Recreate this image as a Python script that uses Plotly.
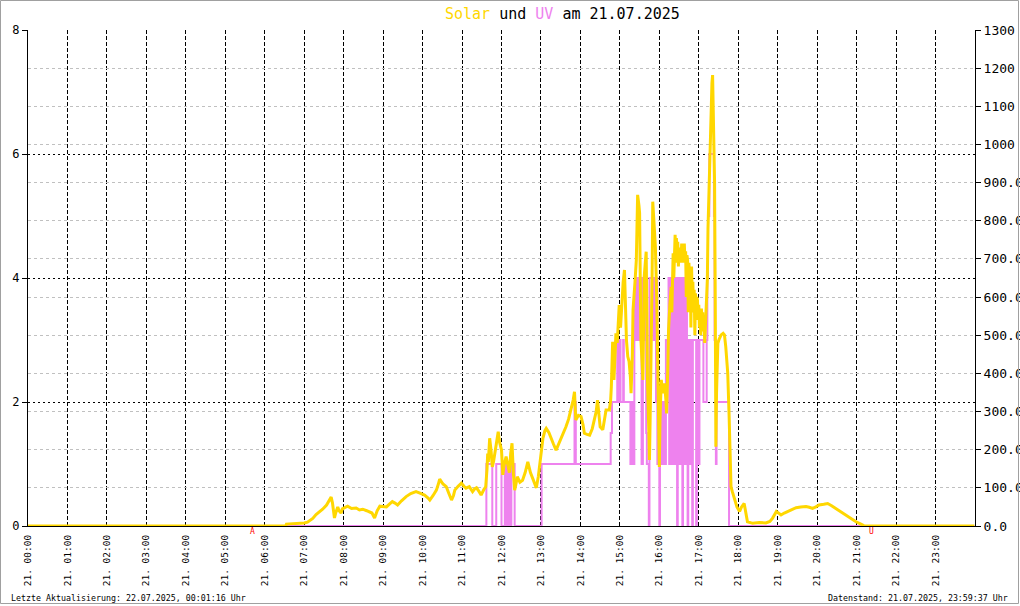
import plotly.graph_objects as go

DAY = "2025-07-21"

solar_times = [
    "00:00", "06:32", "06:33", "06:50", "07:00", "07:05", "07:13", "07:18", "07:23", "07:28",
    "07:34", "07:38", "07:41", "07:43", "07:46", "07:48", "07:51", "07:53", "07:56", "07:58",
    "08:01", "08:06", "08:12", "08:19", "08:24", "08:29", "08:35", "08:39", "08:43", "08:47",
    "08:51", "08:55", "09:00", "09:05", "09:10", "09:14", "09:18", "09:22", "09:28", "09:35",
    "09:42", "09:50", "09:56", "10:03", "10:08", "10:11", "10:16", "10:21", "10:24", "10:26",
    "10:31", "10:36", "10:40", "10:44", "10:47", "10:49", "10:54", "10:59", "11:03", "11:06",
    "11:11", "11:14", "11:16", "11:19", "11:22", "11:26", "11:29", "11:33", "11:36", "11:38",
    "11:39", "11:40", "11:42", "11:44", "11:46", "11:48", "11:49", "11:52", "11:55", "11:57",
    "12:00", "12:02", "12:04", "12:07", "12:10", "12:12", "12:14", "12:16", "12:18", "12:20",
    "12:22", "12:24", "12:28", "12:32", "12:36", "12:40", "12:44", "12:48", "12:53", "12:56",
    "12:58", "13:01", "13:03", "13:06", "13:08", "13:12", "13:15", "13:19", "13:23", "13:27",
    "13:31", "13:35", "13:38", "13:42", "13:46", "13:49", "13:51", "13:53", "13:57", "14:01",
    "14:04", "14:06", "14:10", "14:14", "14:18", "14:21", "14:24", "14:26", "14:28", "14:30",
    "14:34", "14:37", "14:39", "14:44", "14:46", "14:47", "14:49", "14:51", "14:52", "14:54",
    "14:56", "14:57", "14:59", "15:01", "15:02", "15:05", "15:07", "15:09", "15:10", "15:12",
    "15:14", "15:16", "15:17", "15:19", "15:20", "15:23", "15:25", "15:26", "15:27", "15:29",
    "15:30", "15:31", "15:32", "15:34", "15:35", "15:37", "15:39", "15:40", "15:41", "15:42",
    "15:44", "15:45", "15:46", "15:47", "15:49", "15:50", "15:52", "15:54", "15:56", "15:57",
    "15:59", "16:00", "16:01", "16:03", "16:05", "16:08", "16:10", "16:11", "16:13", "16:14",
    "16:16", "16:18", "16:19", "16:20", "16:21", "16:22", "16:23", "16:24", "16:25", "16:26",
    "16:27", "16:28", "16:29", "16:30", "16:31", "16:32", "16:33", "16:34", "16:35", "16:36",
    "16:37", "16:38", "16:39", "16:40", "16:41", "16:42", "16:43", "16:44", "16:45", "16:46",
    "16:47", "16:48", "16:49", "16:50", "16:51", "16:52", "16:53", "16:54", "16:55", "16:56",
    "16:57", "16:58", "16:59", "17:00", "17:01", "17:02", "17:03", "17:04", "17:05", "17:06",
    "17:07", "17:08", "17:09", "17:10", "17:11", "17:12", "17:13", "17:14", "17:16", "17:18",
    "17:20", "17:21", "17:22", "17:24", "17:25", "17:26", "17:27", "17:29", "17:31", "17:34",
    "17:37", "17:39", "17:41", "17:43", "17:44", "17:46", "17:48", "17:49", "17:51", "17:54",
    "17:58", "18:02", "18:05", "18:09", "18:11", "18:14", "18:22", "18:32", "18:42", "18:48",
    "18:52", "18:55", "18:58", "19:02", "19:05", "19:10", "19:15", "19:22", "19:28", "19:35",
    "19:43", "19:48", "19:53", "19:58", "20:03", "20:10", "20:16", "20:22", "20:28", "20:36",
    "20:44", "20:52", "20:59", "21:05", "21:11", "21:18", "23:59",
]
solar_values = [
    0, 0, 5, 6, 8, 10, 20, 30, 37, 44,
    55, 68, 76, 60, 21, 35, 50, 40, 34, 45,
    47, 52, 46, 47, 42, 44, 40, 38, 34, 21,
    40, 52, 50, 50, 58, 64, 60, 55, 66, 77,
    85, 90, 86, 81, 74, 68, 80, 94, 110, 123,
    110, 103, 85, 68, 80, 94, 104, 112, 104, 99,
    103, 96, 90, 97, 100, 90, 81, 95, 103, 150,
    190, 168, 230, 200, 155, 170, 180, 210, 247, 220,
    199, 134, 160, 182, 150, 140, 190, 217, 140, 94,
    110, 129, 115, 120, 140, 168, 140, 120, 100, 130,
    160, 200, 230, 250, 256, 245, 234, 215, 199, 215,
    230, 245, 260, 280, 308, 330, 352, 278, 290, 287,
    265, 243, 240, 238, 255, 278, 300, 330, 290, 260,
    252, 280, 304, 304, 330, 365, 483, 383, 420, 505,
    480, 531, 579, 520, 560, 640, 671, 560, 487, 444,
    431, 390, 348, 450, 566, 640, 697, 780, 868, 840,
    820, 650, 487, 420, 383, 653, 700, 719, 560, 383,
    250, 173, 280, 383, 650, 850, 800, 732, 600, 470,
    300, 155, 280, 383, 348, 374, 330, 295, 420, 514,
    580, 627, 560, 690, 715, 650, 740, 763, 700, 755,
    690, 745, 680, 730, 690, 720, 697, 740, 690, 730,
    700, 740, 690, 720, 600, 710, 697, 560, 690, 650,
    662, 520, 680, 600, 640, 560, 619, 500, 610, 580,
    600, 592, 540, 580, 520, 558, 500, 570, 530, 560,
    510, 540, 480, 522, 560, 600, 645, 780, 907, 1100,
    1160, 1182, 1050, 900, 600, 208, 350, 479, 490, 501,
    505, 501, 470, 430, 401, 295, 180, 103, 90, 73,
    50, 38, 50, 59, 40, 11, 7, 9, 8, 12,
    20, 30, 38, 33, 29, 34, 38, 44, 48, 50,
    51, 49, 46, 50, 55, 57, 59, 53, 46, 38,
    29, 20, 11, 6, 1, 0, 0,
]

uv_times = [
    "00:00", "11:37", "11:46", "11:52", "12:00", "12:05", "12:08", "12:10", "12:13", "12:15",
    "12:20", "13:01", "13:51", "13:53", "14:46", "14:48", "14:56", "14:57", "14:58", "14:59",
    "15:00", "15:01", "15:03", "15:05", "15:06", "15:16", "15:18", "15:20", "15:22", "15:23",
    "15:24", "15:25", "15:26", "15:27", "15:28", "15:29", "15:30", "15:31", "15:33", "15:35",
    "15:36", "15:37", "15:38", "15:39", "15:40", "15:41", "15:44", "15:45", "15:51", "15:52",
    "15:55", "15:56", "15:57", "15:58", "16:00", "16:01", "16:02", "16:03", "16:04", "16:05",
    "16:06", "16:07", "16:08", "16:09", "16:10", "16:14", "16:15", "16:16", "16:17", "16:18",
    "16:19", "16:20", "16:21", "16:22", "16:23", "16:24", "16:25", "16:26", "16:27", "16:28",
    "16:29", "16:30", "16:31", "16:32", "16:33", "16:34", "16:35", "16:36", "16:37", "16:38",
    "16:39", "16:40", "16:41", "16:42", "16:43", "16:44", "16:46", "16:47", "16:50", "16:51",
    "16:56", "16:57", "17:00", "17:01", "17:07", "17:12", "17:13", "17:14", "17:16", "17:23",
    "17:24", "17:26", "17:27", "17:46", "23:59",
]
uv_values = [
    0, 1, 0, 1, 0, 1, 0, 1, 0, 1,
    0, 1, 2, 1, 1.5, 2, 3, 2, 3, 2,
    3, 2, 2, 3, 2, 1, 2, 1, 3, 4,
    3, 4, 3, 4, 3, 4, 3, 4, 1, 4,
    3, 4, 3, 4, 1.5, 1, 0, 4, 3, 4,
    2, 4, 1, 2, 0, 1, 2, 1, 2, 1,
    2, 1, 2, 1, 3, 4, 1, 4, 2, 4,
    1, 4, 3, 4, 1, 4, 2, 4, 0, 4,
    1, 4, 3, 4, 1, 4, 0, 4, 2, 4,
    1, 3, 4, 3, 0, 3, 1, 3, 0, 3,
    0, 3, 1, 3, 2, 3, 4, 5, 6, 5,
    3, 1, 2, 0, 0,
]

hour_ticks = ["%02d:00" % h for h in range(24)]
sunrise_time = "05:42"
sunset_time = "21:23"

title_html = ('<span style="color:#FFD700">Solar</span> und '
              '<span style="color:#EE82EE">UV</span> am 21.07.2025')
footer_left = "Letzte Aktualisierung: 22.07.2025, 00:01:16 Uhr"
footer_right = "Datenstand: 21.07.2025, 23:59:37 Uhr"

solar_ticks = list(range(0, 1400, 100))
solar_ticktext = [("%.1f" % v) if v < 1000 else str(v) for v in solar_ticks]

MONO = "DejaVu Sans Mono"
L, R, T, B = 28, 45, 30, 80
W, H = 1020, 606
PW, PH = W - L - R, H - T - B


def px_x(px):
    return (px - L) / PW


def px_y(py):
    return (H - B - py) / PH


fig = go.Figure()
fig.add_trace(go.Scatter(
    x=[f"{DAY} {t}" for t in solar_times], y=solar_values, yaxis="y2",
    mode="lines", line=dict(color="#FFD700", width=3), name="Solar",
    hoverinfo="skip"))
fig.add_trace(go.Scatter(
    x=[f"{DAY} {t}" for t in uv_times], y=uv_values, yaxis="y",
    mode="lines", line=dict(color="#EE82EE", width=2, shape="hv"), name="UV",
    hoverinfo="skip"))

fig.update_layout(
    width=W, height=H, autosize=False,
    margin=dict(l=L, r=R, t=T, b=B, pad=0, autoexpand=False),
    paper_bgcolor="white", plot_bgcolor="white",
    showlegend=False,
    font=dict(family=MONO, color="black", size=11),
    xaxis=dict(
        type="date",
        range=[f"{DAY} 00:00", "2025-07-22 00:00"],
        tickvals=[f"{DAY} {t}" for t in hour_ticks],
        ticktext=[f"21. {t}" for t in hour_ticks],
        tickangle=-90, tickfont=dict(family=MONO, size=9.5),
        ticklabelstandoff=4,
        showgrid=True, gridcolor="black", griddash="4px,2px", gridwidth=1,
        showline=True, linecolor="black", linewidth=1,
        ticks="", zeroline=False, fixedrange=True, automargin=False,
    ),
    yaxis=dict(
        range=[0, 8], tickvals=[0, 2, 4, 6, 8],
        showgrid=True, gridcolor="black", griddash="2px,3px", gridwidth=1,
        showline=True, linecolor="black", linewidth=1,
        ticks="outside", ticklen=5, tickcolor="black",
        tickfont=dict(family=MONO, size=12), zeroline=False, automargin=False,
    ),
    yaxis2=dict(
        range=[0, 1300], overlaying="y", side="right", anchor="x",
        tickvals=solar_ticks, ticktext=solar_ticktext,
        showgrid=True, gridcolor="#C0C0C0", griddash="3px,3px", gridwidth=1,
        showline=True, linecolor="black", linewidth=1,
        ticks="outside", ticklen=5, tickcolor="black",
        tickfont=dict(family=MONO, size=13), zeroline=False, automargin=False,
    ),
)

annotations = [
    dict(text=title_html, xref="paper", yref="paper", x=px_x(443), y=px_y(14),
         xanchor="left", yanchor="middle", showarrow=False,
         font=dict(family=MONO, size=15, color="black")),
    dict(text=footer_left, xref="paper", yref="paper", x=px_x(9), y=px_y(598),
         xanchor="left", yanchor="middle", showarrow=False,
         font=dict(family=MONO, size=8.3, color="black")),
    dict(text=footer_right, xref="paper", yref="paper", x=px_x(1010), y=px_y(598),
         xanchor="right", yanchor="middle", showarrow=False,
         font=dict(family=MONO, size=8.3, color="black")),
    dict(text="A", xref="x", yref="paper", x=f"{DAY} {sunrise_time}", y=px_y(531),
         xanchor="center", yanchor="middle", showarrow=False,
         font=dict(family=MONO, size=8, color="#FF0000")),
    dict(text="U", xref="x", yref="paper", x=f"{DAY} {sunset_time}", y=px_y(531),
         xanchor="center", yanchor="middle", showarrow=False,
         font=dict(family=MONO, size=8, color="#FF0000")),
]
fig.update_layout(annotations=annotations)

fig.add_shape(type="rect", xref="paper", yref="paper",
              x0=px_x(0.5), x1=px_x(1018.5), y0=px_y(603.5), y1=px_y(0.5),
              line=dict(color="#A0A0A0", width=1), fillcolor="rgba(0,0,0,0)",
              layer="above")

fig.write_html(
    "out.html",
    config={"displayModeBar": False, "staticPlot": True},
    post_script="document.body.style.margin='0';document.body.style.overflow='hidden';",
)
